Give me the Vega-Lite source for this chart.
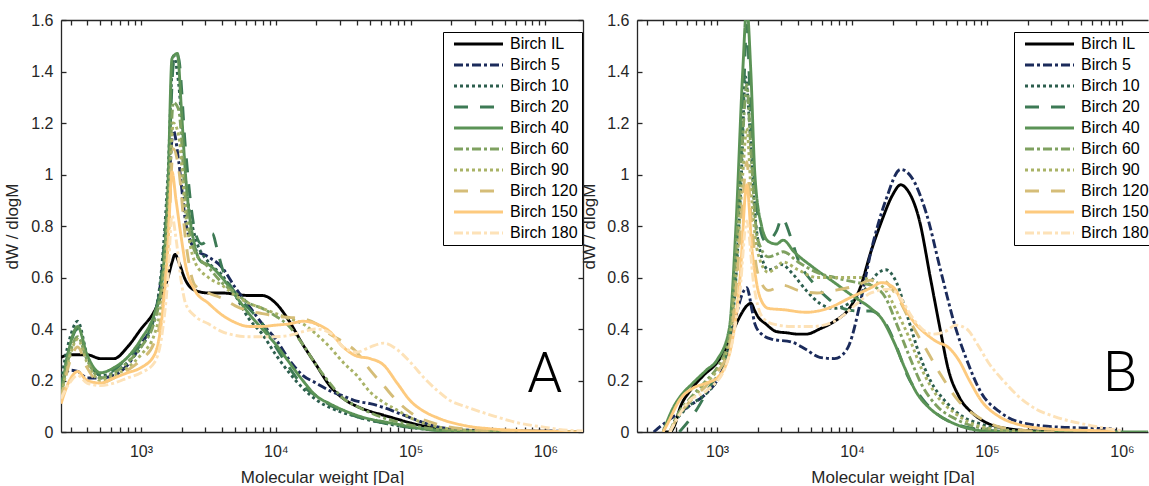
{
"$schema": "https://vega.github.io/schema/vega-lite/v6.json",
"padding": {"left": 3, "top": 12, "right": 0, "bottom": 0},
"spacing": -4,
"config": {
  "view": {"stroke": null},
  "font": "Liberation Sans",
  "axis": {"labelFont": "Liberation Sans", "labelFontSize": 16, "labelColor": "#262626", "titleFont": "Liberation Sans", "titleFontSize": 17, "titleFontWeight": "normal", "titleColor": "#262626", "domainColor": "#262626", "tickColor": "#262626", "grid": false, "domainWidth": 1.3, "tickWidth": 1.3, "labelOverlap": false, "labelFlush": false, "labelBound": false},
  "legend": {"orient": "none", "legendY": 12, "title": null, "strokeColor": "#000000", "fillColor": "#ffffff", "padding": 4, "symbolType": "M-0.2,0H9.6", "symbolSize": 100, "symbolStrokeWidth": 3, "labelFontSize": 16, "labelFont": "Liberation Sans", "labelColor": "#000000", "rowPadding": 5, "labelOffset": 47, "cornerRadius": 0}
},
"resolve": {"scale": {"color": "shared", "strokeDash": "shared"}, "legend": {"color": "independent", "strokeDash": "independent"}},
"datasets": {
"a": [
{"s":"IL","x":255,"y":0.29},{"s":"IL","x":295,"y":0.30},{"s":"IL","x":339,"y":0.30},{"s":"IL","x":398,"y":0.30},{"s":"IL","x":501,"y":0.285},{"s":"IL","x":631,"y":0.285},{"s":"IL","x":794,"y":0.33},{"s":"IL","x":1000,"y":0.40},{"s":"IL","x":1259,"y":0.47},{"s":"IL","x":1413,"y":0.53},{"s":"IL","x":1585,"y":0.60},{"s":"IL","x":1700,"y":0.66},{"s":"IL","x":1790,"y":0.69},{"s":"IL","x":1905,"y":0.66},{"s":"IL","x":2138,"y":0.59},{"s":"IL","x":2512,"y":0.55},{"s":"IL","x":3162,"y":0.54},{"s":"IL","x":3981,"y":0.54},{"s":"IL","x":5012,"y":0.535},{"s":"IL","x":6310,"y":0.53},{"s":"IL","x":7943,"y":0.53},{"s":"IL","x":10000,"y":0.50},{"s":"IL","x":12589,"y":0.43},{"s":"IL","x":15849,"y":0.34},{"s":"IL","x":19953,"y":0.26},{"s":"IL","x":25119,"y":0.18},{"s":"IL","x":31623,"y":0.13},{"s":"IL","x":39811,"y":0.10},{"s":"IL","x":50119,"y":0.08},{"s":"IL","x":63096,"y":0.065},{"s":"IL","x":79433,"y":0.05},{"s":"IL","x":100000,"y":0.035},{"s":"IL","x":158489,"y":0.015},{"s":"IL","x":251189,"y":0.006},{"s":"IL","x":501187,"y":0.003},{"s":"IL","x":1000000,"y":0.003},{"s":"IL","x":1300000,"y":0.002},{"s":"IL","x":1500000,"y":0},
{"s":"5","x":255,"y":0.19},{"s":"5","x":295,"y":0.24},{"s":"5","x":339,"y":0.235},{"s":"5","x":398,"y":0.21},{"s":"5","x":501,"y":0.21},{"s":"5","x":631,"y":0.22},{"s":"5","x":794,"y":0.26},{"s":"5","x":1000,"y":0.34},{"s":"5","x":1259,"y":0.45},{"s":"5","x":1413,"y":0.6},{"s":"5","x":1585,"y":0.9},{"s":"5","x":1738,"y":1.17},{"s":"5","x":1905,"y":1.05},{"s":"5","x":2138,"y":0.82},{"s":"5","x":2512,"y":0.71},{"s":"5","x":3162,"y":0.68},{"s":"5","x":3981,"y":0.64},{"s":"5","x":5012,"y":0.56},{"s":"5","x":6310,"y":0.49},{"s":"5","x":7943,"y":0.42},{"s":"5","x":10000,"y":0.36},{"s":"5","x":12589,"y":0.28},{"s":"5","x":15849,"y":0.22},{"s":"5","x":19953,"y":0.19},{"s":"5","x":25119,"y":0.16},{"s":"5","x":31623,"y":0.14},{"s":"5","x":39811,"y":0.12},{"s":"5","x":50119,"y":0.11},{"s":"5","x":63096,"y":0.095},{"s":"5","x":79433,"y":0.075},{"s":"5","x":100000,"y":0.055},{"s":"5","x":158489,"y":0.02},{"s":"5","x":251189,"y":0.008},{"s":"5","x":501187,"y":0.004},{"s":"5","x":1000000,"y":0.003},{"s":"5","x":1900000,"y":0.002},
{"s":"10","x":255,"y":0.2},{"s":"10","x":295,"y":0.36},{"s":"10","x":339,"y":0.43},{"s":"10","x":398,"y":0.3},{"s":"10","x":501,"y":0.22},{"s":"10","x":631,"y":0.23},{"s":"10","x":794,"y":0.27},{"s":"10","x":1000,"y":0.33},{"s":"10","x":1259,"y":0.45},{"s":"10","x":1413,"y":0.62},{"s":"10","x":1585,"y":1.0},{"s":"10","x":1738,"y":1.46},{"s":"10","x":1905,"y":1.35},{"s":"10","x":2138,"y":0.98},{"s":"10","x":2512,"y":0.76},{"s":"10","x":3162,"y":0.66},{"s":"10","x":3981,"y":0.61},{"s":"10","x":5012,"y":0.53},{"s":"10","x":6310,"y":0.44},{"s":"10","x":7943,"y":0.38},{"s":"10","x":10000,"y":0.30},{"s":"10","x":12589,"y":0.23},{"s":"10","x":15849,"y":0.17},{"s":"10","x":19953,"y":0.125},{"s":"10","x":25119,"y":0.095},{"s":"10","x":31623,"y":0.075},{"s":"10","x":39811,"y":0.06},{"s":"10","x":50119,"y":0.045},{"s":"10","x":63096,"y":0.035},{"s":"10","x":79433,"y":0.025},{"s":"10","x":100000,"y":0.017},{"s":"10","x":158489,"y":0.008},{"s":"10","x":251189,"y":0.004},{"s":"10","x":501187,"y":0.002},{"s":"10","x":1000000,"y":0.001},{"s":"10","x":1900000,"y":0},
{"s":"20","x":255,"y":0.16},{"s":"20","x":295,"y":0.33},{"s":"20","x":339,"y":0.40},{"s":"20","x":398,"y":0.29},{"s":"20","x":501,"y":0.22},{"s":"20","x":631,"y":0.24},{"s":"20","x":794,"y":0.29},{"s":"20","x":1000,"y":0.34},{"s":"20","x":1259,"y":0.45},{"s":"20","x":1413,"y":0.6},{"s":"20","x":1585,"y":0.95},{"s":"20","x":1738,"y":1.43},{"s":"20","x":1820,"y":1.47},{"s":"20","x":1905,"y":1.45},{"s":"20","x":2138,"y":1.1},{"s":"20","x":2512,"y":0.78},{"s":"20","x":2818,"y":0.73},{"s":"20","x":3162,"y":0.75},{"s":"20","x":3388,"y":0.77},{"s":"20","x":3631,"y":0.72},{"s":"20","x":3981,"y":0.64},{"s":"20","x":5012,"y":0.54},{"s":"20","x":6310,"y":0.48},{"s":"20","x":7943,"y":0.42},{"s":"20","x":10000,"y":0.33},{"s":"20","x":12589,"y":0.25},{"s":"20","x":15849,"y":0.18},{"s":"20","x":19953,"y":0.14},{"s":"20","x":25119,"y":0.105},{"s":"20","x":31623,"y":0.08},{"s":"20","x":39811,"y":0.06},{"s":"20","x":50119,"y":0.045},{"s":"20","x":63096,"y":0.035},{"s":"20","x":79433,"y":0.025},{"s":"20","x":100000,"y":0.017},{"s":"20","x":158489,"y":0.007},{"s":"20","x":251189,"y":0.003},{"s":"20","x":501187,"y":0.002},{"s":"20","x":1000000,"y":0.001},{"s":"20","x":1900000,"y":0},
{"s":"40","x":255,"y":0.15},{"s":"40","x":295,"y":0.33},{"s":"40","x":339,"y":0.41},{"s":"40","x":398,"y":0.3},{"s":"40","x":501,"y":0.23},{"s":"40","x":631,"y":0.25},{"s":"40","x":794,"y":0.29},{"s":"40","x":1000,"y":0.36},{"s":"40","x":1259,"y":0.46},{"s":"40","x":1413,"y":0.56},{"s":"40","x":1585,"y":0.95},{"s":"40","x":1698,"y":1.45},{"s":"40","x":1862,"y":1.47},{"s":"40","x":1995,"y":1.25},{"s":"40","x":2138,"y":1.0},{"s":"40","x":2512,"y":0.72},{"s":"40","x":2818,"y":0.66},{"s":"40","x":3162,"y":0.65},{"s":"40","x":3981,"y":0.6},{"s":"40","x":5012,"y":0.53},{"s":"40","x":6310,"y":0.46},{"s":"40","x":7943,"y":0.40},{"s":"40","x":10000,"y":0.34},{"s":"40","x":12589,"y":0.27},{"s":"40","x":15849,"y":0.2},{"s":"40","x":19953,"y":0.14},{"s":"40","x":25119,"y":0.11},{"s":"40","x":31623,"y":0.085},{"s":"40","x":39811,"y":0.065},{"s":"40","x":50119,"y":0.05},{"s":"40","x":63096,"y":0.04},{"s":"40","x":79433,"y":0.03},{"s":"40","x":100000,"y":0.02},{"s":"40","x":158489,"y":0.006},{"s":"40","x":251189,"y":0.002},{"s":"40","x":501187,"y":0.001},{"s":"40","x":1000000,"y":0},{"s":"40","x":1900000,"y":0},
{"s":"60","x":255,"y":0.14},{"s":"60","x":295,"y":0.3},{"s":"60","x":339,"y":0.37},{"s":"60","x":398,"y":0.28},{"s":"60","x":501,"y":0.21},{"s":"60","x":631,"y":0.23},{"s":"60","x":794,"y":0.27},{"s":"60","x":1000,"y":0.33},{"s":"60","x":1259,"y":0.43},{"s":"60","x":1413,"y":0.55},{"s":"60","x":1585,"y":0.85},{"s":"60","x":1738,"y":1.28},{"s":"60","x":1905,"y":1.25},{"s":"60","x":2138,"y":0.9},{"s":"60","x":2512,"y":0.7},{"s":"60","x":3162,"y":0.64},{"s":"60","x":3981,"y":0.58},{"s":"60","x":5012,"y":0.54},{"s":"60","x":6310,"y":0.5},{"s":"60","x":7943,"y":0.48},{"s":"60","x":10000,"y":0.45},{"s":"60","x":12589,"y":0.41},{"s":"60","x":15849,"y":0.34},{"s":"60","x":19953,"y":0.26},{"s":"60","x":25119,"y":0.19},{"s":"60","x":31623,"y":0.13},{"s":"60","x":39811,"y":0.1},{"s":"60","x":50119,"y":0.075},{"s":"60","x":63096,"y":0.055},{"s":"60","x":79433,"y":0.04},{"s":"60","x":100000,"y":0.027},{"s":"60","x":158489,"y":0.01},{"s":"60","x":251189,"y":0.004},{"s":"60","x":501187,"y":0.002},{"s":"60","x":1000000,"y":0.001},{"s":"60","x":1900000,"y":0},
{"s":"90","x":255,"y":0.13},{"s":"90","x":295,"y":0.29},{"s":"90","x":339,"y":0.36},{"s":"90","x":398,"y":0.27},{"s":"90","x":501,"y":0.2},{"s":"90","x":631,"y":0.22},{"s":"90","x":794,"y":0.25},{"s":"90","x":1000,"y":0.3},{"s":"90","x":1259,"y":0.38},{"s":"90","x":1413,"y":0.5},{"s":"90","x":1585,"y":0.8},{"s":"90","x":1738,"y":1.2},{"s":"90","x":1905,"y":1.15},{"s":"90","x":2138,"y":0.85},{"s":"90","x":2512,"y":0.66},{"s":"90","x":3162,"y":0.6},{"s":"90","x":3981,"y":0.57},{"s":"90","x":5012,"y":0.53},{"s":"90","x":6310,"y":0.5},{"s":"90","x":7943,"y":0.48},{"s":"90","x":10000,"y":0.46},{"s":"90","x":12589,"y":0.44},{"s":"90","x":15849,"y":0.42},{"s":"90","x":19953,"y":0.38},{"s":"90","x":25119,"y":0.33},{"s":"90","x":31623,"y":0.27},{"s":"90","x":39811,"y":0.22},{"s":"90","x":50119,"y":0.155},{"s":"90","x":63096,"y":0.115},{"s":"90","x":79433,"y":0.085},{"s":"90","x":100000,"y":0.055},{"s":"90","x":158489,"y":0.02},{"s":"90","x":251189,"y":0.008},{"s":"90","x":501187,"y":0.003},{"s":"90","x":1000000,"y":0.001},{"s":"90","x":1900000,"y":0},
{"s":"120","x":255,"y":0.12},{"s":"120","x":295,"y":0.27},{"s":"120","x":339,"y":0.33},{"s":"120","x":398,"y":0.25},{"s":"120","x":501,"y":0.19},{"s":"120","x":631,"y":0.21},{"s":"120","x":794,"y":0.24},{"s":"120","x":1000,"y":0.28},{"s":"120","x":1259,"y":0.35},{"s":"120","x":1413,"y":0.45},{"s":"120","x":1585,"y":0.72},{"s":"120","x":1738,"y":1.1},{"s":"120","x":1905,"y":1.02},{"s":"120","x":2138,"y":0.75},{"s":"120","x":2512,"y":0.57},{"s":"120","x":3162,"y":0.54},{"s":"120","x":3981,"y":0.52},{"s":"120","x":5012,"y":0.49},{"s":"120","x":6310,"y":0.47},{"s":"120","x":7943,"y":0.46},{"s":"120","x":10000,"y":0.45},{"s":"120","x":12589,"y":0.445},{"s":"120","x":15849,"y":0.44},{"s":"120","x":19953,"y":0.42},{"s":"120","x":25119,"y":0.38},{"s":"120","x":31623,"y":0.35},{"s":"120","x":39811,"y":0.31},{"s":"120","x":50119,"y":0.24},{"s":"120","x":63096,"y":0.18},{"s":"120","x":79433,"y":0.12},{"s":"120","x":100000,"y":0.075},{"s":"120","x":158489,"y":0.03},{"s":"120","x":251189,"y":0.012},{"s":"120","x":501187,"y":0.004},{"s":"120","x":1000000,"y":0.002},{"s":"120","x":1900000,"y":0},
{"s":"150","x":255,"y":0.11},{"s":"150","x":295,"y":0.2},{"s":"150","x":339,"y":0.235},{"s":"150","x":398,"y":0.2},{"s":"150","x":501,"y":0.19},{"s":"150","x":631,"y":0.21},{"s":"150","x":794,"y":0.23},{"s":"150","x":1000,"y":0.25},{"s":"150","x":1259,"y":0.3},{"s":"150","x":1413,"y":0.42},{"s":"150","x":1585,"y":0.72},{"s":"150","x":1698,"y":1.01},{"s":"150","x":1820,"y":0.9},{"s":"150","x":1995,"y":0.75},{"s":"150","x":2138,"y":0.65},{"s":"150","x":2512,"y":0.55},{"s":"150","x":3162,"y":0.5},{"s":"150","x":3981,"y":0.455},{"s":"150","x":5012,"y":0.425},{"s":"150","x":6310,"y":0.41},{"s":"150","x":7943,"y":0.41},{"s":"150","x":10000,"y":0.415},{"s":"150","x":12589,"y":0.42},{"s":"150","x":15849,"y":0.43},{"s":"150","x":19953,"y":0.42},{"s":"150","x":25119,"y":0.39},{"s":"150","x":31623,"y":0.33},{"s":"150","x":39811,"y":0.295},{"s":"150","x":50119,"y":0.285},{"s":"150","x":63096,"y":0.26},{"s":"150","x":79433,"y":0.19},{"s":"150","x":100000,"y":0.12},{"s":"150","x":125893,"y":0.08},{"s":"150","x":158489,"y":0.055},{"s":"150","x":251189,"y":0.025},{"s":"150","x":398107,"y":0.012},{"s":"150","x":630957,"y":0.006},{"s":"150","x":1000000,"y":0.003},{"s":"150","x":1900000,"y":0.001},
{"s":"180","x":255,"y":0.13},{"s":"180","x":295,"y":0.19},{"s":"180","x":339,"y":0.22},{"s":"180","x":398,"y":0.19},{"s":"180","x":501,"y":0.18},{"s":"180","x":631,"y":0.19},{"s":"180","x":794,"y":0.21},{"s":"180","x":1000,"y":0.23},{"s":"180","x":1259,"y":0.27},{"s":"180","x":1413,"y":0.36},{"s":"180","x":1585,"y":0.6},{"s":"180","x":1698,"y":0.84},{"s":"180","x":1820,"y":0.75},{"s":"180","x":1995,"y":0.58},{"s":"180","x":2138,"y":0.5},{"s":"180","x":2512,"y":0.45},{"s":"180","x":3162,"y":0.42},{"s":"180","x":3981,"y":0.39},{"s":"180","x":5012,"y":0.375},{"s":"180","x":6310,"y":0.37},{"s":"180","x":7943,"y":0.37},{"s":"180","x":10000,"y":0.37},{"s":"180","x":12589,"y":0.375},{"s":"180","x":15849,"y":0.39},{"s":"180","x":19953,"y":0.40},{"s":"180","x":25119,"y":0.385},{"s":"180","x":31623,"y":0.33},{"s":"180","x":39811,"y":0.31},{"s":"180","x":50119,"y":0.33},{"s":"180","x":63096,"y":0.345},{"s":"180","x":79433,"y":0.32},{"s":"180","x":100000,"y":0.27},{"s":"180","x":125893,"y":0.21},{"s":"180","x":158489,"y":0.16},{"s":"180","x":199526,"y":0.12},{"s":"180","x":251189,"y":0.1},{"s":"180","x":398107,"y":0.065},{"s":"180","x":630957,"y":0.035},{"s":"180","x":1000000,"y":0.018},{"s":"180","x":1258925,"y":0.01},{"s":"180","x":1900000,"y":0.004}
],
"b": [
{"s":"IL","x":398,"y":0},{"s":"IL","x":447,"y":0},{"s":"IL","x":479,"y":0.02},{"s":"IL","x":537,"y":0.1},{"s":"IL","x":631,"y":0.16},{"s":"IL","x":794,"y":0.22},{"s":"IL","x":1000,"y":0.27},{"s":"IL","x":1148,"y":0.32},{"s":"IL","x":1259,"y":0.37},{"s":"IL","x":1479,"y":0.45},{"s":"IL","x":1660,"y":0.49},{"s":"IL","x":1778,"y":0.5},{"s":"IL","x":1905,"y":0.47},{"s":"IL","x":1995,"y":0.45},{"s":"IL","x":2291,"y":0.42},{"s":"IL","x":2754,"y":0.39},{"s":"IL","x":3311,"y":0.385},{"s":"IL","x":3981,"y":0.38},{"s":"IL","x":4571,"y":0.38},{"s":"IL","x":5754,"y":0.4},{"s":"IL","x":7413,"y":0.43},{"s":"IL","x":9550,"y":0.48},{"s":"IL","x":11482,"y":0.56},{"s":"IL","x":13804,"y":0.7},{"s":"IL","x":16596,"y":0.82},{"s":"IL","x":19953,"y":0.92},{"s":"IL","x":22909,"y":0.96},{"s":"IL","x":25704,"y":0.94},{"s":"IL","x":31623,"y":0.82},{"s":"IL","x":38019,"y":0.6},{"s":"IL","x":45709,"y":0.38},{"s":"IL","x":51286,"y":0.25},{"s":"IL","x":61660,"y":0.14},{"s":"IL","x":79433,"y":0.07},{"s":"IL","x":100000,"y":0.035},{"s":"IL","x":147911,"y":0.012},{"s":"IL","x":229087,"y":0.004},{"s":"IL","x":398107,"y":0.001},
{"s":"5","x":339,"y":0},{"s":"5","x":398,"y":0.03},{"s":"5","x":447,"y":0.05},{"s":"5","x":617,"y":0.1},{"s":"5","x":832,"y":0.15},{"s":"5","x":1000,"y":0.2},{"s":"5","x":1148,"y":0.27},{"s":"5","x":1380,"y":0.45},{"s":"5","x":1549,"y":0.54},{"s":"5","x":1660,"y":0.56},{"s":"5","x":1820,"y":0.47},{"s":"5","x":1905,"y":0.42},{"s":"5","x":2138,"y":0.38},{"s":"5","x":2570,"y":0.36},{"s":"5","x":3548,"y":0.35},{"s":"5","x":4571,"y":0.32},{"s":"5","x":5754,"y":0.29},{"s":"5","x":7413,"y":0.285},{"s":"5","x":8511,"y":0.3},{"s":"5","x":9550,"y":0.34},{"s":"5","x":11482,"y":0.5},{"s":"5","x":13804,"y":0.7},{"s":"5","x":17783,"y":0.9},{"s":"5","x":22909,"y":1.02},{"s":"5","x":27542,"y":0.99},{"s":"5","x":35481,"y":0.85},{"s":"5","x":45709,"y":0.62},{"s":"5","x":58884,"y":0.4},{"s":"5","x":70795,"y":0.28},{"s":"5","x":91201,"y":0.15},{"s":"5","x":123027,"y":0.08},{"s":"5","x":169824,"y":0.04},{"s":"5","x":316228,"y":0.02},{"s":"5","x":588844,"y":0.015},{"s":"5","x":851138,"y":0.012},{"s":"5","x":912011,"y":0},
{"s":"10","x":479,"y":0.04},{"s":"10","x":617,"y":0.1},{"s":"10","x":832,"y":0.15},{"s":"10","x":1000,"y":0.2},{"s":"10","x":1148,"y":0.27},{"s":"10","x":1380,"y":0.6},{"s":"10","x":1514,"y":1.0},{"s":"10","x":1622,"y":1.38},{"s":"10","x":1738,"y":1.2},{"s":"10","x":1905,"y":0.85},{"s":"10","x":2138,"y":0.68},{"s":"10","x":2399,"y":0.63},{"s":"10","x":2754,"y":0.64},{"s":"10","x":3020,"y":0.65},{"s":"10","x":3548,"y":0.62},{"s":"10","x":4571,"y":0.55},{"s":"10","x":5754,"y":0.5},{"s":"10","x":7413,"y":0.48},{"s":"10","x":9550,"y":0.5},{"s":"10","x":12303,"y":0.55},{"s":"10","x":15849,"y":0.62},{"s":"10","x":17783,"y":0.63},{"s":"10","x":21380,"y":0.58},{"s":"10","x":25704,"y":0.45},{"s":"10","x":31623,"y":0.3},{"s":"10","x":38019,"y":0.2},{"s":"10","x":48978,"y":0.12},{"s":"10","x":66069,"y":0.06},{"s":"10","x":91201,"y":0.03},{"s":"10","x":158489,"y":0.005},{"s":"10","x":251189,"y":0},
{"s":"20","x":525,"y":0},{"s":"20","x":692,"y":0.08},{"s":"20","x":891,"y":0.18},{"s":"20","x":1148,"y":0.28},{"s":"20","x":1380,"y":0.65},{"s":"20","x":1549,"y":1.2},{"s":"20","x":1660,"y":1.58},{"s":"20","x":1778,"y":1.2},{"s":"20","x":1995,"y":0.85},{"s":"20","x":2291,"y":0.74},{"s":"20","x":2754,"y":0.78},{"s":"20","x":3020,"y":0.83},{"s":"20","x":3548,"y":0.75},{"s":"20","x":3981,"y":0.67},{"s":"20","x":5129,"y":0.58},{"s":"20","x":6607,"y":0.52},{"s":"20","x":8511,"y":0.48},{"s":"20","x":10965,"y":0.47},{"s":"20","x":13804,"y":0.47},{"s":"20","x":17783,"y":0.42},{"s":"20","x":21380,"y":0.33},{"s":"20","x":25704,"y":0.22},{"s":"20","x":33113,"y":0.13},{"s":"20","x":42658,"y":0.07},{"s":"20","x":58884,"y":0.03},{"s":"20","x":91201,"y":0.01},{"s":"20","x":158489,"y":0},
{"s":"40","x":398,"y":0},{"s":"40","x":479,"y":0.1},{"s":"40","x":537,"y":0.14},{"s":"40","x":661,"y":0.19},{"s":"40","x":832,"y":0.24},{"s":"40","x":1000,"y":0.28},{"s":"40","x":1230,"y":0.4},{"s":"40","x":1380,"y":0.8},{"s":"40","x":1549,"y":1.4},{"s":"40","x":1660,"y":1.65},{"s":"40","x":1778,"y":1.4},{"s":"40","x":1905,"y":1.0},{"s":"40","x":2138,"y":0.8},{"s":"40","x":2399,"y":0.74},{"s":"40","x":2754,"y":0.73},{"s":"40","x":3090,"y":0.745},{"s":"40","x":3715,"y":0.7},{"s":"40","x":5129,"y":0.64},{"s":"40","x":7413,"y":0.58},{"s":"40","x":10000,"y":0.53},{"s":"40","x":13804,"y":0.48},{"s":"40","x":16596,"y":0.44},{"s":"40","x":20417,"y":0.35},{"s":"40","x":24547,"y":0.25},{"s":"40","x":29512,"y":0.16},{"s":"40","x":38019,"y":0.09},{"s":"40","x":48978,"y":0.05},{"s":"40","x":66069,"y":0.02},{"s":"40","x":91201,"y":0.005},{"s":"40","x":158489,"y":0},{"s":"40","x":1600000,"y":0},
{"s":"60","x":447,"y":0},{"s":"60","x":501,"y":0.06},{"s":"60","x":631,"y":0.13},{"s":"60","x":832,"y":0.2},{"s":"60","x":1000,"y":0.25},{"s":"60","x":1230,"y":0.37},{"s":"60","x":1380,"y":0.7},{"s":"60","x":1549,"y":1.15},{"s":"60","x":1660,"y":1.35},{"s":"60","x":1778,"y":1.1},{"s":"60","x":1995,"y":0.75},{"s":"60","x":2399,"y":0.68},{"s":"60","x":2754,"y":0.69},{"s":"60","x":3090,"y":0.7},{"s":"60","x":3981,"y":0.66},{"s":"60","x":5495,"y":0.62},{"s":"60","x":7413,"y":0.6},{"s":"60","x":10965,"y":0.58},{"s":"60","x":13804,"y":0.57},{"s":"60","x":17783,"y":0.52},{"s":"60","x":21380,"y":0.42},{"s":"60","x":26303,"y":0.3},{"s":"60","x":33113,"y":0.18},{"s":"60","x":42658,"y":0.1},{"s":"60","x":58884,"y":0.05},{"s":"60","x":91201,"y":0.015},{"s":"60","x":158489,"y":0.003},{"s":"60","x":251189,"y":0},
{"s":"90","x":447,"y":0},{"s":"90","x":501,"y":0.05},{"s":"90","x":631,"y":0.12},{"s":"90","x":832,"y":0.19},{"s":"90","x":1000,"y":0.24},{"s":"90","x":1230,"y":0.35},{"s":"90","x":1380,"y":0.6},{"s":"90","x":1549,"y":1.0},{"s":"90","x":1660,"y":1.18},{"s":"90","x":1778,"y":0.95},{"s":"90","x":1995,"y":0.7},{"s":"90","x":2399,"y":0.62},{"s":"90","x":2754,"y":0.64},{"s":"90","x":3090,"y":0.66},{"s":"90","x":3981,"y":0.63},{"s":"90","x":5495,"y":0.6},{"s":"90","x":7413,"y":0.6},{"s":"90","x":10965,"y":0.6},{"s":"90","x":13804,"y":0.59},{"s":"90","x":17783,"y":0.55},{"s":"90","x":21380,"y":0.47},{"s":"90","x":26303,"y":0.37},{"s":"90","x":33113,"y":0.24},{"s":"90","x":42658,"y":0.14},{"s":"90","x":58884,"y":0.07},{"s":"90","x":91201,"y":0.02},{"s":"90","x":158489,"y":0.005},{"s":"90","x":251189,"y":0},
{"s":"120","x":447,"y":0},{"s":"120","x":501,"y":0.05},{"s":"120","x":631,"y":0.12},{"s":"120","x":832,"y":0.18},{"s":"120","x":1000,"y":0.23},{"s":"120","x":1230,"y":0.33},{"s":"120","x":1380,"y":0.55},{"s":"120","x":1549,"y":0.9},{"s":"120","x":1660,"y":1.05},{"s":"120","x":1778,"y":0.85},{"s":"120","x":1995,"y":0.62},{"s":"120","x":2399,"y":0.55},{"s":"120","x":2754,"y":0.56},{"s":"120","x":3090,"y":0.57},{"s":"120","x":3981,"y":0.55},{"s":"120","x":5495,"y":0.54},{"s":"120","x":7413,"y":0.55},{"s":"120","x":10965,"y":0.57},{"s":"120","x":13804,"y":0.59},{"s":"120","x":16596,"y":0.59},{"s":"120","x":21380,"y":0.53},{"s":"120","x":27542,"y":0.42},{"s":"120","x":35481,"y":0.32},{"s":"120","x":45709,"y":0.22},{"s":"120","x":61660,"y":0.12},{"s":"120","x":91201,"y":0.05},{"s":"120","x":123027,"y":0.02},{"s":"120","x":199526,"y":0.005},{"s":"120","x":316228,"y":0},
{"s":"150","x":398,"y":0},{"s":"150","x":427,"y":0.03},{"s":"150","x":537,"y":0.13},{"s":"150","x":661,"y":0.17},{"s":"150","x":832,"y":0.19},{"s":"150","x":1000,"y":0.21},{"s":"150","x":1230,"y":0.3},{"s":"150","x":1479,"y":0.6},{"s":"150","x":1660,"y":0.96},{"s":"150","x":1820,"y":0.7},{"s":"150","x":1905,"y":0.62},{"s":"150","x":2089,"y":0.52},{"s":"150","x":2399,"y":0.48},{"s":"150","x":3090,"y":0.475},{"s":"150","x":4571,"y":0.465},{"s":"150","x":6607,"y":0.48},{"s":"150","x":9550,"y":0.52},{"s":"150","x":13804,"y":0.56},{"s":"150","x":16596,"y":0.58},{"s":"150","x":20417,"y":0.56},{"s":"150","x":24547,"y":0.48},{"s":"150","x":29512,"y":0.42},{"s":"150","x":35481,"y":0.38},{"s":"150","x":42658,"y":0.35},{"s":"150","x":51286,"y":0.33},{"s":"150","x":61660,"y":0.28},{"s":"150","x":74131,"y":0.2},{"s":"150","x":91201,"y":0.12},{"s":"150","x":123027,"y":0.06},{"s":"150","x":169824,"y":0.03},{"s":"150","x":316228,"y":0.01},{"s":"150","x":794328,"y":0.003},{"s":"150","x":891251,"y":0},
{"s":"180","x":447,"y":0},{"s":"180","x":479,"y":0.03},{"s":"180","x":617,"y":0.12},{"s":"180","x":832,"y":0.16},{"s":"180","x":1148,"y":0.25},{"s":"180","x":1479,"y":0.55},{"s":"180","x":1660,"y":0.82},{"s":"180","x":1862,"y":0.58},{"s":"180","x":2138,"y":0.45},{"s":"180","x":2570,"y":0.42},{"s":"180","x":3548,"y":0.41},{"s":"180","x":5129,"y":0.41},{"s":"180","x":7413,"y":0.43},{"s":"180","x":10965,"y":0.5},{"s":"180","x":13804,"y":0.54},{"s":"180","x":19055,"y":0.555},{"s":"180","x":22909,"y":0.52},{"s":"180","x":27542,"y":0.45},{"s":"180","x":33113,"y":0.4},{"s":"180","x":39811,"y":0.38},{"s":"180","x":48978,"y":0.39},{"s":"180","x":58884,"y":0.415},{"s":"180","x":70795,"y":0.4},{"s":"180","x":85114,"y":0.34},{"s":"180","x":102329,"y":0.27},{"s":"180","x":131826,"y":0.2},{"s":"180","x":169824,"y":0.14},{"s":"180","x":229087,"y":0.09},{"s":"180","x":316228,"y":0.06},{"s":"180","x":588844,"y":0.025},{"s":"180","x":851138,"y":0.01},{"s":"180","x":1000000,"y":0.005}
]
},
"hconcat": [
{
  "width": 522, "height": 412,
  "layer": [
    {
      "data": {"name": "a"},
      "mark": {"type": "line", "strokeWidth": 2.9, "clip": true, "interpolate": "monotone"},
      "encoding": {
        "x": {"field": "x", "type": "quantitative", "scale": {"type": "log", "domain": [255, 1900000], "nice": false},
              "axis": {"orient": "bottom", "values": [300,400,500,600,700,800,900,1000,2000,3000,4000,5000,6000,7000,8000,9000,10000,20000,30000,40000,50000,60000,70000,80000,90000,100000,200000,300000,400000,500000,600000,700000,800000,900000,1000000],
                       "labelExpr": "datum.value == 1000 ? '10³' : datum.value == 10000 ? '10⁴' : datum.value == 100000 ? '10⁵' : datum.value == 1000000 ? '10⁶' : ''",
                       "title": "Molecular weight [Da]", "tickSize": -5, "labelPadding": 16, "titlePadding": 10}},
        "y": {"field": "y", "type": "quantitative", "scale": {"domain": [0, 1.6], "nice": false},
              "axis": {"orient": "left", "values": [0,0.2,0.4,0.6,0.8,1,1.2,1.4,1.6], "format": "~g", "title": "dW / dlogM", "tickSize": -5, "labelPadding": 13, "titlePadding": 9}},
        "color": {"field": "s", "type": "nominal", "scale": {"domain": ["IL","5","10","20","40","60","90","120","150","180"], "range": ["#000000","#1b2b5b","#2c5e4e","#3d7a55","#5b9356","#7fa160","#a9b367","#d5bd78","#fdca7e","#fde2b8"]}, "legend": {"labelExpr": "'Birch ' + datum.label", "legendX": 382}},
        "strokeDash": {"field": "s", "type": "nominal", "scale": {"domain": ["IL","5","10","20","40","60","90","120","150","180"], "range": [[1,0],[9,3,3,3],[3,3],[14,12],[1,0],[9,3,3,3],[3,3],[14,12],[1,0],[9,3,3,3]]}, "legend": {"labelExpr": "'Birch ' + datum.label", "legendX": 382}}
      }
    },
    {
      "data": {"values": [{}]},
      "mark": {"type": "point", "opacity": 0},
      "encoding": {
        "x": {"datum": 1000, "type": "quantitative", "axis": {"orient": "top", "values": [300,400,500,600,700,800,900,1000,2000,3000,4000,5000,6000,7000,8000,9000,10000,20000,30000,40000,50000,60000,70000,80000,90000,100000,200000,300000,400000,500000,600000,700000,800000,900000,1000000], "labels": false, "title": null, "tickSize": -5}},
        "y": {"datum": 0.5, "type": "quantitative", "axis": {"orient": "right", "values": [0,0.2,0.4,0.6,0.8,1,1.2,1.4,1.6], "labels": false, "title": null, "tickSize": -5}}
      }
    },
    {
      "data": {"values": [{}]},
      "mark": {"type": "text", "font": "Roboto", "fontWeight": 300, "fontSize": 56, "align": "center", "baseline": "middle", "color": "#000000"},
      "encoding": {
        "x": {"datum": 990000, "type": "quantitative", "axis": null},
        "y": {"datum": 0.22, "type": "quantitative", "axis": null},
        "text": {"value": "A"}
      }
    }
  ],
  "resolve": {"axis": {"x": "independent", "y": "independent"}}
},
{
  "width": 511, "height": 412,
  "layer": [
    {
      "data": {"name": "b"},
      "mark": {"type": "line", "strokeWidth": 2.9, "clip": true, "interpolate": "monotone"},
      "encoding": {
        "x": {"field": "x", "type": "quantitative", "scale": {"type": "log", "domain": [255, 1560000], "nice": false},
              "axis": {"orient": "bottom", "values": [300,400,500,600,700,800,900,1000,2000,3000,4000,5000,6000,7000,8000,9000,10000,20000,30000,40000,50000,60000,70000,80000,90000,100000,200000,300000,400000,500000,600000,700000,800000,900000,1000000],
                       "labelExpr": "datum.value == 1000 ? '10³' : datum.value == 10000 ? '10⁴' : datum.value == 100000 ? '10⁵' : datum.value == 1000000 ? '10⁶' : ''",
                       "title": "Molecular weight [Da]", "tickSize": -5, "labelPadding": 16, "titlePadding": 10}},
        "y": {"field": "y", "type": "quantitative", "scale": {"domain": [0, 1.6], "nice": false},
              "axis": {"orient": "left", "values": [0,0.2,0.4,0.6,0.8,1,1.2,1.4,1.6], "format": "~g", "title": "dW / dlogM", "tickSize": -5, "labelPadding": 13, "titlePadding": 8}},
        "color": {"field": "s", "type": "nominal", "scale": {"domain": ["IL","5","10","20","40","60","90","120","150","180"], "range": ["#000000","#1b2b5b","#2c5e4e","#3d7a55","#5b9356","#7fa160","#a9b367","#d5bd78","#fdca7e","#fde2b8"]}, "legend": {"labelExpr": "'Birch ' + datum.label", "legendX": 377}},
        "strokeDash": {"field": "s", "type": "nominal", "scale": {"domain": ["IL","5","10","20","40","60","90","120","150","180"], "range": [[1,0],[9,3,3,3],[3,3],[14,12],[1,0],[9,3,3,3],[3,3],[14,12],[1,0],[9,3,3,3]]}, "legend": {"labelExpr": "'Birch ' + datum.label", "legendX": 377}}
      }
    },
    {
      "data": {"values": [{}]},
      "mark": {"type": "point", "opacity": 0},
      "encoding": {
        "x": {"datum": 1000, "type": "quantitative", "axis": {"orient": "top", "values": [300,400,500,600,700,800,900,1000,2000,3000,4000,5000,6000,7000,8000,9000,10000,20000,30000,40000,50000,60000,70000,80000,90000,100000,200000,300000,400000,500000,600000,700000,800000,900000,1000000], "labels": false, "title": null, "tickSize": -5}},
        "y": {"datum": 0.5, "type": "quantitative", "axis": null}
      }
    },
    {
      "data": {"values": [{}]},
      "mark": {"type": "text", "font": "Roboto", "fontWeight": 300, "fontSize": 56, "align": "center", "baseline": "middle", "color": "#000000"},
      "encoding": {
        "x": {"datum": 970000, "type": "quantitative", "axis": null},
        "y": {"datum": 0.225, "type": "quantitative", "axis": null},
        "text": {"value": "B"}
      }
    }
  ],
  "resolve": {"axis": {"x": "independent", "y": "independent"}}
}
]
}
